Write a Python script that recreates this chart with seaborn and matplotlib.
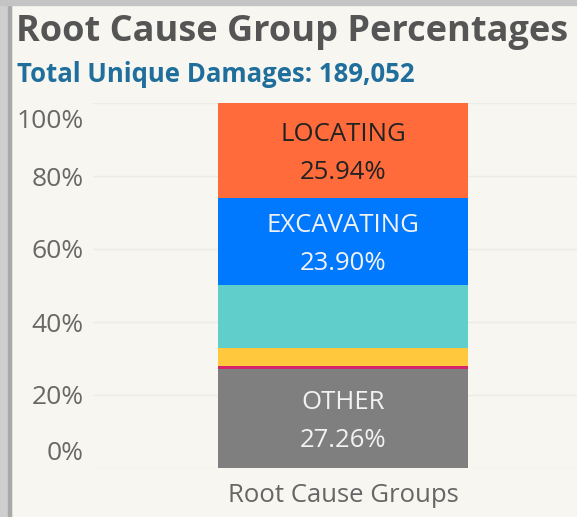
import numpy as np
import pandas as pd
import seaborn as sns
import matplotlib.pyplot as plt
from matplotlib.patches import Rectangle
import matplotlib.transforms as mtransforms

# segments, bottom to top
segments = ["OTHER", "Group 5", "Group 4", "Group 3", "EXCAVATING", "LOCATING"]
shares = [27.26, 0.8, 4.7, 17.4, 23.90, 25.94]
colors = ["#7f7f7f", "#d6246e", "#ffc83d", "#60cfcc", "#0079fe", "#ff6b3a"]
shown = ["OTHER", "EXCAVATING", "LOCATING"]
text_colors = {"OTHER": "#f2f2f2", "EXCAVATING": "#f2f2f2", "LOCATING": "#222222"}
yticks = [0, 20, 40, 60, 80, 100]
ytick_labels = ["0%", "20%", "40%", "60%", "80%", "100%"]

bg = "#f7f6f0"
sns.set_theme(style="white")
plt.rcParams["font.family"] = ["Open Sans", "DejaVu Sans"]

df = pd.DataFrame({"segment": segments, "share": shares, "color": colors})
df["top"] = df["share"].cumsum()
df["bottom"] = df["top"] - df["share"]
df["group"] = "Root Cause Groups"

fig = plt.figure(figsize=(5.77, 5.17), dpi=100, facecolor=bg)
ax = fig.add_axes([93 / 577, 49 / 517, 484 / 577, 365 / 517])
ax.set_facecolor(bg)

# stacked bar: draw cumulative bars from the top down so each covers the next
for _, row in df.iloc[::-1].iterrows():
    sns.barplot(x=[row["group"]], y=[row["top"]], color=row["color"],
                width=0.5, linewidth=0, saturation=1, ax=ax, zorder=2)

nudge = ax.transData + mtransforms.ScaledTranslation(0, -3 / 100, fig.dpi_scale_trans)
for _, row in df.iterrows():
    if row["segment"] in shown:
        ax.text(0, (row["top"] + row["bottom"]) / 2,
                f"{row['segment']}\n{row['share']:.2f}%",
                ha="center", va="center", fontsize=18.5, linespacing=1.68,
                color=text_colors[row["segment"]], zorder=3, transform=nudge)

ax.set_xlim(-0.5, 0.468)
ax.set_ylim(0, 100)
ax.set_yticks(yticks)
ax.set_yticklabels(ytick_labels)
ax.tick_params(axis="y", length=0, pad=6.5, labelsize=19, labelcolor="#686868")
ax.tick_params(axis="x", length=0, labelbottom=False)
ax.grid(axis="y", color="#ecebe5", linewidth=1, zorder=0)
ax.set_axisbelow(True)
for s in ax.spines.values():
    s.set_visible(False)
ax.set_xlabel("")
ax.set_ylabel("")

# edge tick labels sit inside the pane
labels = ax.get_yticklabels()
labels[0].set_transform(labels[0].get_transform() +
                        mtransforms.ScaledTranslation(0, 17 / 100, fig.dpi_scale_trans))
labels[-1].set_transform(labels[-1].get_transform() +
                         mtransforms.ScaledTranslation(0, -16 / 100, fig.dpi_scale_trans))

fig.text(343 / 577, 1 - 495 / 517, "Root Cause Groups", ha="center", va="center",
         fontsize=18.5, color="#666666")

fig.text(16 / 577, 1 - 32 / 517, "Root Cause Group Percentages", ha="left", va="center",
         fontsize=26, fontweight="bold", color="#555555")
fig.text(17 / 577, 1 - 74 / 517, "Total Unique Damages: 189,052", ha="left", va="center",
         fontsize=18.5, fontweight="bold", color="#1f6e9c")

# window shadow on the left and top edges
fig.patches.append(Rectangle((0, 0), 11 / 577, 1, transform=fig.transFigure,
                             color="#cfcfcf", zorder=0))
fig.patches.append(Rectangle((8 / 577, 0), 3 / 577, 1, transform=fig.transFigure,
                             color="#a9a9a9", zorder=0))
fig.patches.append(Rectangle((0, 1 - 5 / 517), 1, 5 / 517, transform=fig.transFigure,
                             color="#c4c4c4", zorder=0))

fig.savefig("out.png", dpi=100, facecolor=bg)
